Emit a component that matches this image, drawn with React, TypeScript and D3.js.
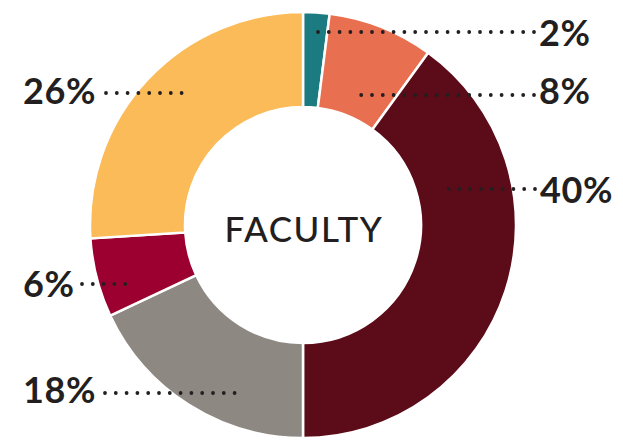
import React, { useEffect, useRef } from 'react'
import * as d3 from 'd3'

// shares of faculty, clockwise from 12 o'clock
const categories = ['a', 'b', 'c', 'd', 'e', 'f']
const values = [2, 8, 40, 18, 6, 26]
const labels = ['2%', '8%', '40%', '18%', '6%', '26%']
const colors = ['#1b7b80', '#e86f4f', '#5c0b18', '#8e8883', '#9b0030', '#fbbb58']

// label placement: line y, dotted line start x, end x, text side
const labelLayout = [
  { y: 32, x0: 316, x1: 534, side: 'right', baseline: 46 },
  { y: 95, x0: 361, x1: 534, side: 'right', baseline: 104 },
  { y: 189, x0: 446, x1: 535, side: 'right', baseline: 203 },
  { y: 393, x0: 237, x1: 105, side: 'left', baseline: 403 },
  { y: 284, x0: 131, x1: 82, side: 'left', baseline: 297 },
  { y: 93, x0: 186, x1: 106, side: 'left', baseline: 104 },
]

const W = 623
const H = 448

const App = () => {
  const svgRef = useRef<SVGSVGElement>(null)

  useEffect(() => {
    const svg = d3.select(svgRef.current)
    svg.selectAll('*').remove()

    const cx = 303
    const cy = 225
    const outer = 213
    const inner = 118

    const pie = d3
      .pie<number>()
      .sort(null)
      .value((d) => d)
    const arcs = pie(values)
    const arc = d3.arc<d3.PieArcDatum<number>>().innerRadius(inner).outerRadius(outer)

    const g = svg.append('g').attr('transform', `translate(${cx},${cy})`)

    g.selectAll('path')
      .data(arcs)
      .enter()
      .append('path')
      .attr('d', arc)
      .attr('fill', (d, i) => colors[i])
      .attr('stroke', '#fff')
      .attr('stroke-width', 2.5)
      .attr('stroke-linejoin', 'miter')

    // dotted leader lines
    svg
      .append('g')
      .selectAll('line')
      .data(labelLayout)
      .enter()
      .append('line')
      .attr('x1', (d) => d.x1)
      .attr('x2', (d) => d.x0)
      .attr('y1', (d) => d.y)
      .attr('y2', (d) => d.y)
      .attr('stroke', '#231f20')
      .attr('stroke-width', 3.8)
      .attr('stroke-linecap', 'round')
      .attr('stroke-dasharray', '0 10.8')

    svg
      .append('g')
      .selectAll('text')
      .data(labelLayout)
      .enter()
      .append('text')
      .attr('x', (d) => (d.side === 'right' ? d.x1 + 5 : 23))
      .attr('y', (d) => d.baseline)
      .attr('text-anchor', 'start')
      .attr('font-family', 'Lato, sans-serif')
      .attr('font-weight', 700)
      .attr('font-size', 36)
      .attr('letter-spacing', 0.6)
      .attr('fill', '#231f20')
      .text((d, i) => labels[i])

    svg
      .append('text')
      .attr('x', cx + 1)
      .attr('y', 242)
      .attr('text-anchor', 'middle')
      .attr('font-family', 'Lato, sans-serif')
      .attr('font-weight', 500)
      .attr('font-size', 35)
      .attr('letter-spacing', 1.6)
      .attr('fill', '#231f20')
      .text('FACULTY')
  }, [])

  return (
    <svg
      ref={svgRef}
      width={W}
      height={H}
      style={{ position: 'absolute', left: 0, top: 0, background: '#fff' }}
      data-categories={categories.join(',')}
    />
  )
}

export default App
